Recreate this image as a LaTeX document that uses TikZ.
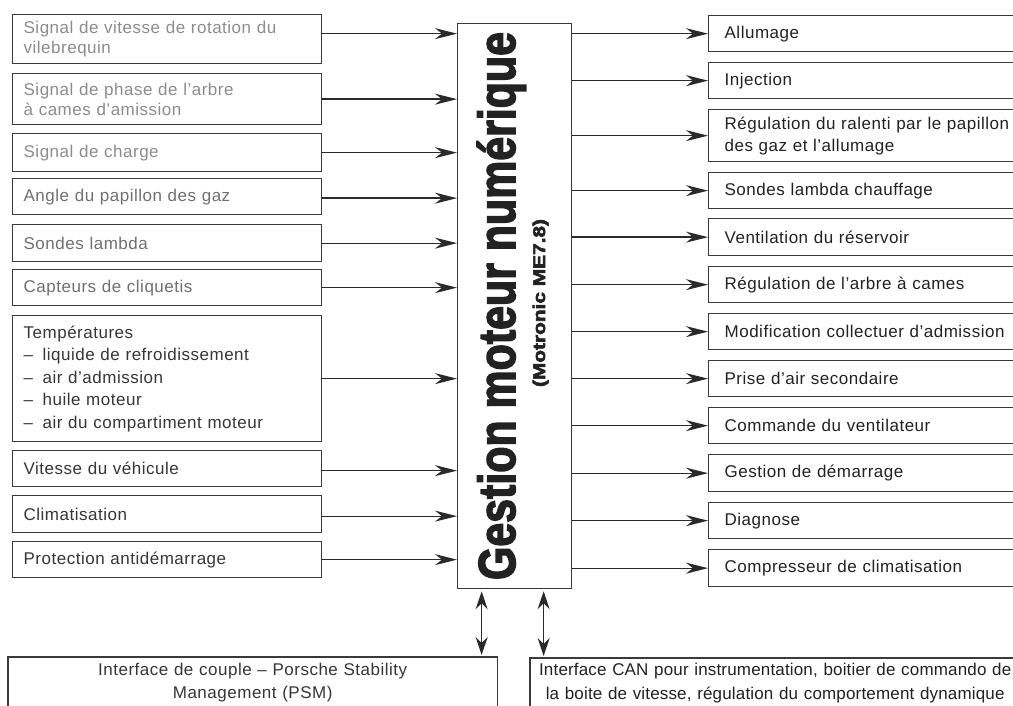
\documentclass[tikz,border=0pt]{standalone}
\usepackage{fontspec}
\usepackage{graphicx}
\setmainfont{Liberation Sans}[LetterSpace=3]
\newfontfamily\bigfont{Liberation Sans Bold}[FakeBold=3]
\newfontfamily\tightfont{Liberation Sans}[LetterSpace=1]
\usetikzlibrary{arrows.meta}
\definecolor{boxc}{HTML}{3A3A3A}
\definecolor{linec}{HTML}{2A2A2A}
\definecolor{tga}{HTML}{8C8C8C}
\definecolor{tgb}{HTML}{707070}
\definecolor{tdk}{HTML}{363636}
\definecolor{tbk}{HTML}{222222}
\newcommand{\dashitem}[1]{\makebox[19pt][l]{–}#1}
\begin{document}
\begin{tikzpicture}[x=1pt,y=-1pt,
  lbox/.style={draw=boxc, line width=1.3pt, rectangle, anchor=north west,
    text width=287pt, inner xsep=11pt, inner ysep=0pt, align=left,
    font=\fontsize{17}{21}\selectfont},
  rbox/.style={draw=boxc, line width=1.3pt, rectangle, anchor=north west,
    text width=300pt, inner xsep=16pt, inner ysep=0pt, align=left, text=tbk,
    font=\fontsize{17}{22}\selectfont},
  arr/.style={draw=linec, line width=1.3pt, -{Stealth[length=22pt,width=11pt,inset=7pt]}},
  darr/.style={draw=linec, line width=1.3pt, {Stealth[length=18pt,width=12pt,inset=6pt]}-{Stealth[length=18pt,width=12pt,inset=6pt]}},
]
\useasboundingbox (0,0) rectangle (1013,706);
\clip (0,0) rectangle (1013,706);
\fill[white] (0,0) rectangle (1013,706);

% left inputs
\node[lbox, minimum height=49pt, text=tga, font=\fontsize{17}{20}\selectfont] (l1) at (12,14) {Signal de vitesse de rotation du\\vilebrequin};
\node[lbox, minimum height=51pt, text=tga, font=\fontsize{17}{20}\selectfont] (l2) at (12,73) {Signal de phase de l’arbre\\à cames d’amission};
\node[lbox, minimum height=38pt, text=tga] (l3) at (12,133) {Signal de charge};
\node[lbox, minimum height=36pt, text=tgb] (l4) at (12,178) {Angle du papillon des gaz};
\node[lbox, minimum height=37pt, text=tgb] (l5) at (12,224) {Sondes lambda};
\node[lbox, minimum height=36pt, text=tgb] (l6) at (12,269) {Capteurs de cliquetis};
\node[lbox, minimum height=126pt, text=tdk, font=\fontsize{17}{22.5}\selectfont] (l7) at (12,315) {Températures\\\dashitem{liquide de refroidissement}\\\dashitem{air d’admission}\\\dashitem{huile moteur}\\\dashitem{air du compartiment moteur}};
\node[lbox, minimum height=36pt, text=tdk] (l8) at (12,450) {Vitesse du véhicule};
\node[lbox, minimum height=37pt, text=tdk] (l9) at (12,495) {Climatisation};
\node[lbox, minimum height=36pt, text=tdk] (l10) at (12,541) {Protection antidémarrage};

% core
\node[draw=boxc, line width=1.3pt, rectangle, anchor=north west, minimum width=114pt, minimum height=565pt] (core) at (457,23) {};
\node[rotate=90, anchor=base, text=tbk, inner sep=0pt, font=\bigfont\fontsize{52}{52}\selectfont] (title) at (515,306) {\resizebox{548pt}{\height}{Gestion moteur numérique}};
\node[rotate=90, anchor=base, text=tbk, inner sep=0pt, font=\bigfont\fontsize{17}{17}\selectfont] (sub) at (545,303) {\resizebox{168pt}{\height}{(Motronic ME7.8)}};

% right outputs
\node[rbox, minimum height=36pt] (r1) at (708,15) {Allumage};
\node[rbox, minimum height=36pt] (r2) at (708,62) {Injection};
\node[rbox, minimum height=52pt] (r3) at (708,109) {Régulation du ralenti par le papillon\\des gaz et l’allumage};
\node[rbox, minimum height=36pt] (r4) at (708,172) {Sondes lambda chauffage};
\node[rbox, minimum height=37pt] (r5) at (708,218) {Ventilation du réservoir};
\node[rbox, minimum height=36pt] (r6) at (708,266) {Régulation de l’arbre à cames};
\node[rbox, minimum height=36pt] (r7) at (708,313) {Modification collectuer d’admission};
\node[rbox, minimum height=36pt] (r8) at (708,360) {Prise d’air secondaire};
\node[rbox, minimum height=36pt] (r9) at (708,407) {Commande du ventilateur};
\node[rbox, minimum height=37pt] (r10) at (708,454) {Gestion de démarrage};
\node[rbox, minimum height=36pt] (r11) at (708,502) {Diagnose};
\node[rbox, minimum height=37pt] (r12) at (708,549) {Compresseur de climatisation};

% bottom interfaces
\node[rectangle, anchor=north west, minimum width=489pt, minimum height=51pt, text width=480pt, inner xsep=4.5pt, inner ysep=0pt, align=center, text=tdk, font=\fontsize{17}{23.5}\selectfont] (bl) at (8,657) {Interface de couple – Porsche Stability\\Management (PSM)};
\draw[boxc, line width=1.3pt] ([yshift=-10pt]bl.south west) -- (bl.north west) -- (bl.north east) -- ([yshift=-10pt]bl.south east);
\node[rectangle, anchor=north west, minimum width=490pt, minimum height=50pt, text width=480pt, inner xsep=5pt, inner ysep=0pt, align=center, text=tbk, font=\tightfont\fontsize{17}{23.5}\selectfont] (br) at (530,658) {\makebox[474pt]{Interface CAN pour instrumentation, boitier de commando de}\\\makebox[474pt]{la boite de vitesse, régulation du comportement dynamique}};
\draw[boxc, line width=1.3pt] ([yshift=-10pt]br.south west) -- (br.north west) -- (br.north east);

% input connectors
\draw[arr] ([yshift=5.5pt]l1.east) -- ([yshift=5.5pt]l1.east -| core.west);
\draw[arr] (l2.east) -- (l2.east -| core.west);
\draw[arr] (l3.east) -- (l3.east -| core.west);
\draw[arr] ([yshift=-1.5pt]l4.east) -- ([yshift=-1.5pt]l4.east -| core.west);
\draw[arr] (l5.east) -- (l5.east -| core.west);
\draw[arr] (l6.east) -- (l6.east -| core.west);
\draw[arr] (l7.east) -- (l7.east -| core.west);
\draw[arr] ([yshift=-2pt]l8.east) -- ([yshift=-2pt]l8.east -| core.west);
\draw[arr] ([yshift=-2pt]l9.east) -- ([yshift=-2pt]l9.east -| core.west);
\draw[arr] (l10.east) -- (l10.east -| core.west);

% output connectors
\foreach \r in {r1,r2,r3,r4,r5,r6,r7,r8,r9,r10,r11,r12}
  \draw[arr] (core.east |- \r.west) -- (\r.west);

% bidirectional
\draw[darr] ([xshift=-33pt,yshift=-2pt]core.south) -- ([xshift=-33pt,yshift=2pt]core.south |- bl.north);
\draw[darr] ([xshift=29pt,yshift=-2pt]core.south) -- ([xshift=29pt,yshift=2pt]core.south |- br.north);
\end{tikzpicture}
\end{document}
